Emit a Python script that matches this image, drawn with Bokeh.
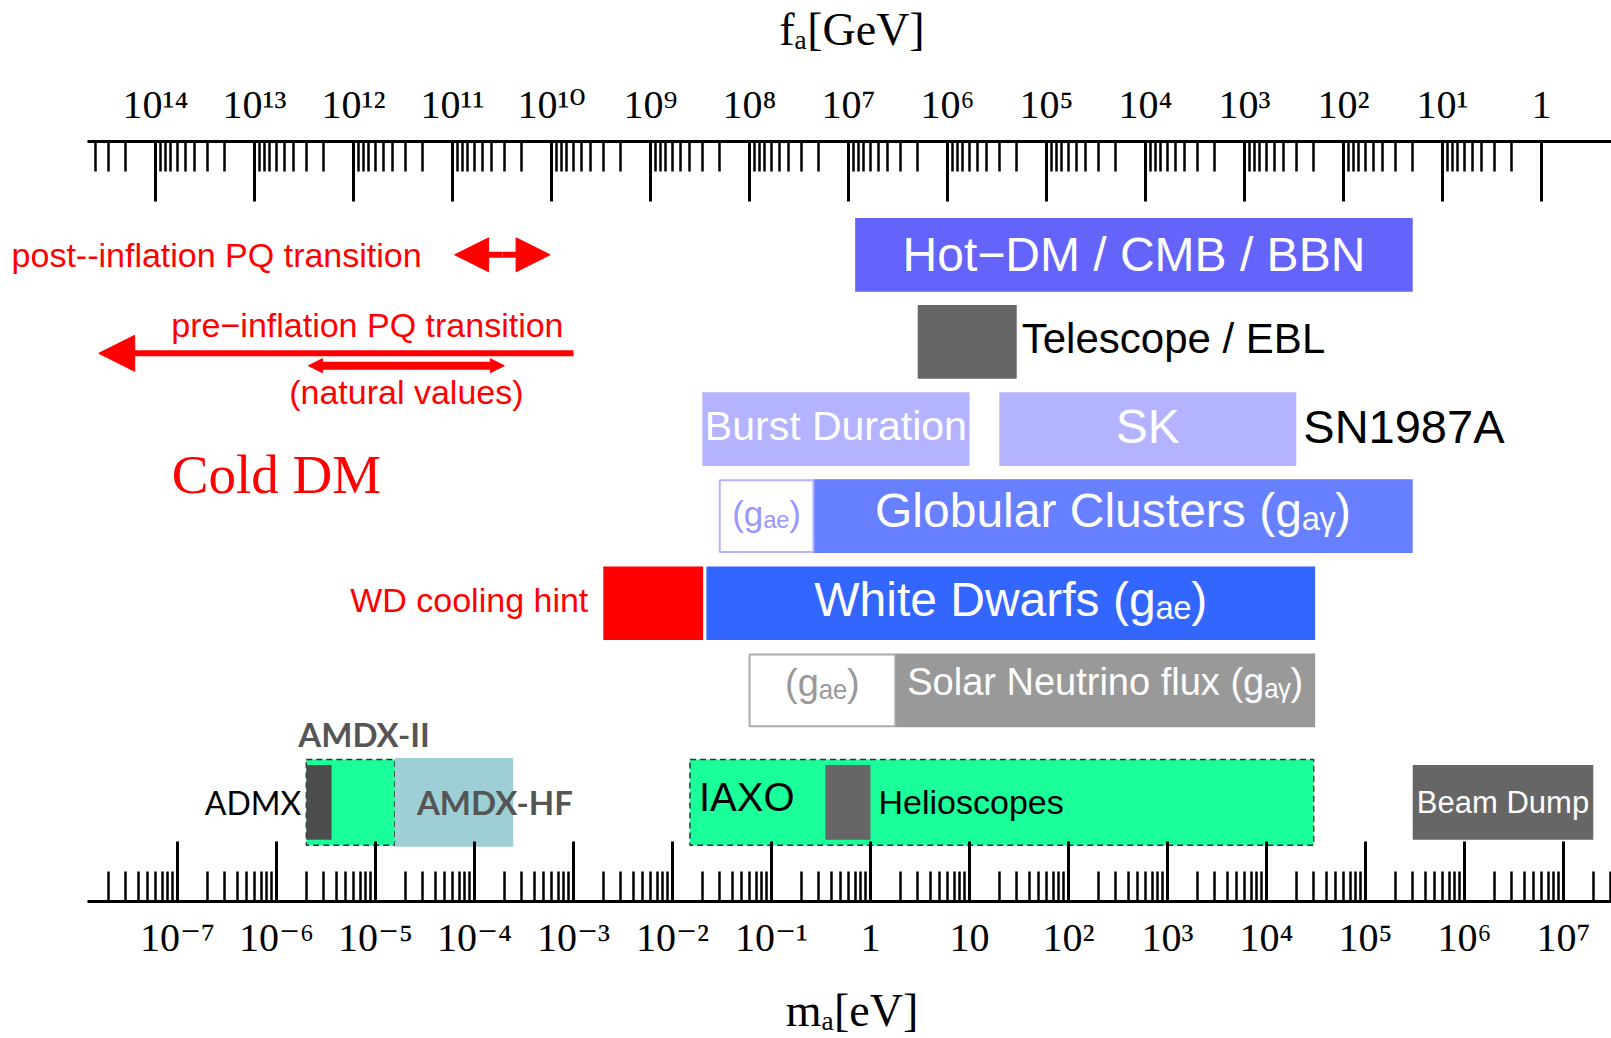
import math
from bokeh.plotting import figure
from bokeh.models import Range1d, LogAxis, FixedTicker, LogScale, Arrow, NormalHead
from bokeh.core.properties import value
from bokeh.embed import file_html
from bokeh.resources import INLINE

# ---------------- data ----------------
mass_tick_exponents = list(range(-7, 8))
mass_tick_labels = ["10⁻⁷", "10⁻⁶", "10⁻⁵", "10⁻⁴", "10⁻³", "10⁻²", "10⁻¹",
                    "1", "10", "10²", "10³", "10⁴", "10⁵", "10⁶", "10⁷"]
fa_tick_exponents = list(range(14, -1, -1))
fa_tick_labels = ["10¹⁴", "10¹³", "10¹²", "10¹¹", "10¹⁰", "10⁹", "10⁸", "10⁷",
                  "10⁶", "10⁵", "10⁴", "10³", "10²", "10¹", "1"]
fa_times_ma = 6.0e6  # f_a [GeV] x m_a [eV]

# astrophysical / cosmological bounds, m_a in eV
bound_names = ["Hot−DM / CMB / BBN", "Telescope / EBL", "Burst Duration", "SK",
               "(gₐₑ)", "Globular Clusters (gₐᵧ)", "WD cooling hint",
               "White Dwarfs (gₐₑ)", "(gₐₑ)", "Solar Neutrino flux (gₐᵧ)"]
bound_lo = [0.70, 3.0, 0.020, 20.0, 0.030, 0.265, 2.0e-3, 0.022, 0.060, 1.78]
bound_hi = [3.0e5, 30.0, 10.0, 2.0e4, 0.265, 3.0e5, 0.0204, 3.1e4, 1.78, 3.1e4]
bound_row = [0, 1, 2, 2, 3, 3, 4, 4, 5, 5]

# experiments, m_a in eV
exp_names = ["AMDX-II", "IAXO", "AMDX-HF", "ADMX", "Helioscopes", "Beam Dump"]
exp_lo = [2.0e-6, 0.015, 1.57e-5, 2.0e-6, 0.35, 3.0e5]
exp_hi = [1.57e-5, 3.0e4, 2.46e-4, 3.6e-6, 1.0, 2.0e7]

# cold dark matter windows, m_a in eV
post_inflation = [6.3e-5, 5.8e-4]
pre_inflation = [1.0e-3, 1.6e-8]   # tail, tip
natural_values = [2.1e-6, 2.0e-4]
cold_dm_center = 1.0e-6

# ---------------- styles ----------------
bound_fill = ["#6464FA", "#666666", "#B3B3FF", "#B3B3FF", "#FFFFFF", "#6680FF",
              "#FF0000", "#3366FF", "#FFFFFF", "#999999"]
bound_border = {4: "#B3B3FF", 8: "#AAAAAA"}
SANS = "Liberation Sans"
SERIF = "Liberation Serif"
TICK_FONT = "Liberation Serif, DejaVu Serif"
ROW_H = 0.846
EXP_ROW = 6.287
RED = "#FF0000"
EMSP = "\u2003"


def gmean(a, b):
    return math.sqrt(a * b)


frame_lo_log, axis_lo_log, x_hi_log = -8.788, -7.909, 7.485
x_lo, axis_lo, x_hi = 10 ** frame_lo_log, 10 ** axis_lo_log, 10 ** x_hi_log

p = figure(width=1611, height=1038, x_axis_type="log",
           x_range=Range1d(x_lo, x_hi),
           y_range=Range1d(7.424, -1.301),
           x_axis_location=None, y_axis_location=None,
           output_backend="svg", toolbar_location=None,
           min_border_left=0, min_border_right=0,
           min_border_top=141, min_border_bottom=134,
           outline_line_color=None, background_fill_color="white",
           border_fill_color="white")
p.grid.grid_line_color = None

axis_style = dict(axis_line_width=3, axis_line_color="black",
                  major_tick_in=60, major_tick_out=0,
                  minor_tick_in=30, minor_tick_out=0,
                  major_tick_line_width=3, minor_tick_line_width=2.5,
                  major_tick_line_color="black", minor_tick_line_color="black",
                  major_label_text_font=TICK_FONT, major_label_text_font_size="40px",
                  major_label_text_color="black",
                  axis_label_text_font=SERIF, axis_label_text_font_size="46px",
                  axis_label_text_font_style="normal", axis_label_text_color="black")

# bottom axis: m_a
m_ticks = [10.0 ** e for e in mass_tick_exponents]
m_minor = [k * 10.0 ** e for e in range(-9, 8) for k in range(2, 10)]
m_minor = [t for t in m_minor if axis_lo <= t <= x_hi]
bottom = LogAxis(ticker=FixedTicker(ticks=m_ticks, minor_ticks=m_minor),
                 bounds=(axis_lo, x_hi),
                 major_label_overrides=dict(zip(m_ticks, mass_tick_labels)),
                 axis_label=EMSP * 2 + "mₐ[eV]", major_label_standoff=13,
                 axis_label_standoff=22, **axis_style)
p.add_layout(bottom, "below")

# top axis: f_a
fa_axis_lo, fa_axis_hi = fa_times_ma / x_hi, fa_times_ma / axis_lo
p.extra_x_ranges = {"fa": Range1d(fa_times_ma / x_lo, fa_times_ma / x_hi)}
p.extra_x_scales = {"fa": LogScale()}
fa_ticks = [10.0 ** e for e in fa_tick_exponents]
fa_minor = [k * 10.0 ** e for e in range(0, 16) for k in range(2, 10)]
fa_minor = [t for t in fa_minor if fa_axis_lo <= t <= fa_axis_hi]
top = LogAxis(x_range_name="fa",
              ticker=FixedTicker(ticks=fa_ticks, minor_ticks=fa_minor),
              bounds=(fa_axis_hi, fa_axis_lo),
              major_label_overrides=dict(zip(fa_ticks, fa_tick_labels)),
              axis_label=EMSP * 2 + "fₐ[GeV]", major_label_standoff=15,
              axis_label_standoff=24, **axis_style)
p.add_layout(top, "above")

# ---------------- bound bars ----------------
plain = [i for i in range(len(bound_names)) if i not in bound_border]
p.hbar(y=[bound_row[i] for i in plain], height=ROW_H,
       left=[bound_lo[i] for i in plain], right=[bound_hi[i] for i in plain],
       fill_color=[bound_fill[i] for i in plain], line_color=None)
boxed = sorted(bound_border)
p.hbar(y=[bound_row[i] for i in boxed], height=ROW_H - 0.02,
       left=[bound_lo[i] for i in boxed], right=[bound_hi[i] for i in boxed],
       fill_color="white", line_color=[bound_border[i] for i in boxed], line_width=2)

# ---------------- experiments ----------------
p.hbar(y=EXP_ROW, height=0.984, left=[exp_lo[0], exp_lo[1]], right=[exp_hi[0], exp_hi[1]],
       fill_color="#1AFF99", line_color="#333333", line_dash="6 4", line_width=1.5)
p.hbar(y=EXP_ROW, height=1.018, left=[exp_lo[2]], right=[exp_hi[2]],
       fill_color="#9ECFD6", line_color=None)
p.hbar(y=EXP_ROW, height=0.858, left=[exp_lo[3]], right=[exp_hi[3]],
       fill_color="#4D4D4D", line_color=None)
p.hbar(y=EXP_ROW, height=0.858, left=[exp_lo[4], exp_lo[5]], right=[exp_hi[4], exp_hi[5]],
       fill_color="#666666", line_color=None)


def txt(x, y, s, size, color="white", font=SANS, align="center", xo=0, yo=0,
        style="normal", baseline="middle"):
    p.text(x=[x], y=[y], text=[s], text_font=value(font), text_font_size=f"{size}px",
           text_color=color, text_align=align, text_baseline=baseline,
           x_offset=xo, y_offset=yo, text_font_style=style)


# bar labels
txt(gmean(bound_lo[0], bound_hi[0]), bound_row[0], bound_names[0], 48)
txt(bound_hi[1], bound_row[1], bound_names[1], 42, color="black", align="left", xo=5, yo=-3)
txt(gmean(bound_lo[2], bound_hi[2]), bound_row[2], bound_names[2], 41, yo=-3)
txt(gmean(bound_lo[3], bound_hi[3]), bound_row[3], bound_names[3], 48, yo=-3)
txt(bound_hi[3], bound_row[3], "SN1987A", 47, color="black", align="left", xo=7, yo=-3)
txt(gmean(bound_lo[4], bound_hi[4]), bound_row[4], bound_names[4], 35, color="#9999FF", yo=-3)
txt(gmean(bound_lo[5], bound_hi[5]), bound_row[5], bound_names[5], 48, yo=-6)
txt(bound_lo[6], bound_row[6], bound_names[6], 34, color=RED, align="right", xo=-15, yo=-3)
txt(gmean(bound_lo[7], bound_hi[7]), bound_row[7], bound_names[7], 48, yo=-4)
txt(gmean(bound_lo[8], bound_hi[8]), bound_row[8], bound_names[8], 38, color="#999999", yo=-7)
txt(gmean(bound_lo[9], bound_hi[9]), bound_row[9], bound_names[9], 38, yo=-8)

# experiment labels
txt(exp_lo[3], EXP_ROW, "ADMX", 32, color="black", font="Lato", align="right", xo=-5)
txt(exp_lo[3], EXP_ROW - 0.984 / 2, exp_names[0], 33, color="#555555", font="Lato",
    align="left", xo=-8, yo=-26, style="bold", baseline="alphabetic")
txt(exp_lo[2], EXP_ROW, exp_names[2], 33, color="#555555", font="Lato", align="left",
    xo=22, style="bold")
txt(exp_lo[1], EXP_ROW, exp_names[1], 40, color="black", align="left", xo=9, yo=-5)
txt(exp_hi[4], EXP_ROW, exp_names[4], 34, color="black", align="left", xo=8)
txt(gmean(exp_lo[5], exp_hi[5]), EXP_ROW, exp_names[5], 31)

# ---------------- cold DM annotations ----------------
post_c = gmean(*post_inflation)
for end_x in post_inflation:
    p.add_layout(Arrow(x_start=post_c, y_start=0, x_end=end_x, y_end=0,
                       end=NormalHead(size=34, fill_color=RED, line_color=RED),
                       line_color=RED, line_width=6))
txt(post_inflation[0], 0, "post--inflation PQ transition", 34, color=RED, align="right", xo=-33)

p.add_layout(Arrow(x_start=pre_inflation[0], y_start=1.131, x_end=pre_inflation[1], y_end=1.131,
                   end=NormalHead(size=36, fill_color=RED, line_color=RED),
                   line_color=RED, line_width=6))
txt(pre_inflation[0], 0.80, "pre−inflation PQ transition", 34, color=RED, align="right", xo=-10)

p.add_layout(Arrow(x_start=natural_values[0], y_start=1.273, x_end=natural_values[1], y_end=1.273,
                   start=NormalHead(size=14, fill_color=RED, line_color=RED),
                   end=NormalHead(size=14, fill_color=RED, line_color=RED),
                   line_color=RED, line_width=8))
txt(gmean(*natural_values), 1.579, "(natural values)", 34, color=RED)

txt(cold_dm_center, 2.52, "Cold DM", 55, color=RED, font=SERIF)

open("out.html", "w").write(file_html(p, INLINE))
